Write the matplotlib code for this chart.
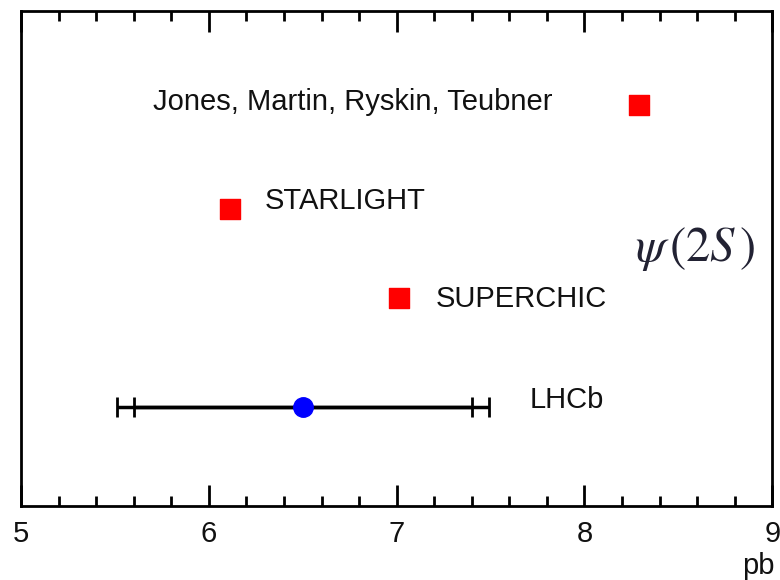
import numpy as np
import matplotlib.pyplot as plt

plt.rcParams['font.family'] = ['Liberation Sans', 'DejaVu Sans']
plt.rcParams['mathtext.fontset'] = 'stix'

# theory predictions (pb)
models = ['Jones, Martin, Ryskin, Teubner', 'STARLIGHT', 'SUPERCHIC']
model_vals = [8.29, 6.11, 7.01]
model_pos = [4.05, 3.0, 2.1]

# measurement
meas_name = 'LHCb'
meas_val = 6.50
meas_stat = 0.90
meas_tot = 0.99
meas_pos = 1.0

fig = plt.figure(figsize=(7.8, 5.8), dpi=100)
ax = fig.add_axes([0.027, 0.128, 0.963, 0.853])

ax.scatter(model_vals, model_pos, marker='s', s=210, color='#ff0000', zorder=3)

ax.errorbar([meas_val], [meas_pos], xerr=[meas_tot], fmt='none', ecolor='black',
            elinewidth=2.5, capsize=7, capthick=2, zorder=2)
ax.errorbar([meas_val], [meas_pos], xerr=[meas_stat], fmt='none', ecolor='black',
            elinewidth=2.5, capsize=7, capthick=2, zorder=2)
ax.plot([meas_val], [meas_pos], 'o', color='#0000ff', markersize=14, zorder=4)

txt = dict(fontsize=21, va='center', ha='left', color='#111111')
ax.text(5.70, 4.08, models[0], **txt)
ax.text(6.30, 3.08, models[1], **txt)
ax.text(7.21, 2.09, models[2], **txt)
ax.text(7.71, 1.07, meas_name, **txt)

ax.text(8.91, 2.59, r'$\psi\,(2S\,)$', fontsize=35, ha='right', va='center', color='#222233')

ax.set_xlim(5, 9)
ax.set_ylim(0, 5)
ax.set_yticks([])
ax.set_xticks([5, 6, 7, 8, 9])
ax.set_xticks(np.arange(5, 9.01, 0.2), minor=True)
ax.tick_params(axis='x', which='major', direction='in', length=15, width=2,
               top=True, labelsize=21, pad=10, labelcolor='#111111')
ax.tick_params(axis='x', which='minor', direction='in', length=7, width=2, top=True)
for s in ax.spines.values():
    s.set_linewidth(2)

fig.text(0.993, 0.0, 'pb', fontsize=21, ha='right', va='bottom', color='#111111')

fig.savefig('out.png', dpi=100)
